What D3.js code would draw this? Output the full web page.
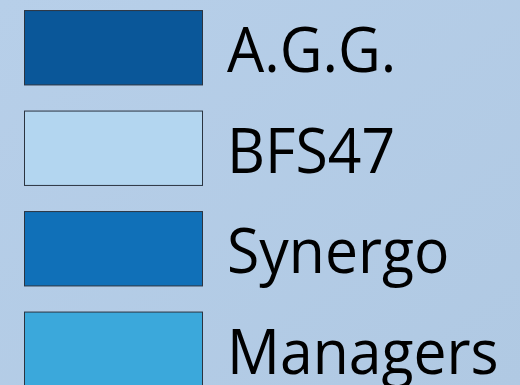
<!DOCTYPE html>
<html>
<head>
<meta charset="utf-8">
<script src="https://cdn.jsdelivr.net/npm/d3@7.9.0/dist/d3.min.js"></script>
<style>
  html, body { margin: 0; padding: 0; }
  svg { display: block; }
</style>
</head>
<body>
<svg id="legend" width="520" height="385"></svg>
<script>
const labels = ["A.G.G.", "BFS47", "Synergo", "Managers"];
const colors = ["#0a5799", "#b3d6f0", "#1070b8", "#3ba8db"];

const svg = d3.select("#legend");
const width = +svg.attr("width"),
  height = +svg.attr("height");

const defs = svg.append("defs");
const grad = defs.append("linearGradient")
  .attr("id", "bg")
  .attr("x1", "0%").attr("y1", "0%")
  .attr("x2", "100%").attr("y2", "100%");
grad.append("stop").attr("offset", "0%").attr("stop-color", "#b7cfe9");
grad.append("stop").attr("offset", "100%").attr("stop-color", "#b0c9e3");

svg.append("rect")
  .attr("width", width)
  .attr("height", height)
  .attr("fill", "url(#bg)");

// one row per entry, rows stepping ~100px down
const y = d3.scaleBand()
  .domain(labels)
  .range([-3, 399])
  .paddingInner(0.26)
  .paddingOuter(0.13);

const color = d3.scaleOrdinal().domain(labels).range(colors);

const rows = svg.selectAll("g.row")
  .data(labels)
  .join("g")
  .attr("class", "row")
  .attr("transform", d => `translate(0,${y(d)})`);

rows.append("rect")
  .attr("x", 24.5)
  .attr("y", 0.5)
  .attr("width", 178)
  .attr("height", y.bandwidth())
  .attr("fill", d => color(d))
  .attr("stroke", "#2b3440")
  .attr("stroke-width", 1);

// Open Sans runs a bit wider than the original face, so squeeze it slightly
rows.append("text")
  .attr("transform", `translate(227,${y.bandwidth() / 2 + 25}) scale(0.95,1)`)
  .style("font-family", "'Open Sans', 'Noto Sans', sans-serif")
  .style("font-size", "62px")
  .attr("fill", "#000")
  .text(d => d);
</script>
</body>
</html>
